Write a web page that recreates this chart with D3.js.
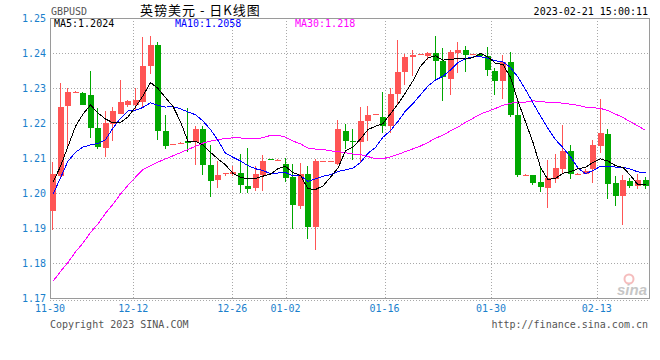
<!DOCTYPE html>
<html><head><meta charset="utf-8">
<script src="https://cdn.jsdelivr.net/npm/d3@7"></script>
<style>body{margin:0;background:#fff}svg{display:block}</style>
</head><body><svg id="c" width="660" height="360"></svg>
<script>
const openP=[1.1949,1.2049,1.2250,1.2287,1.2287,1.2279,1.2187,1.2128,1.2198,1.2227,
1.2253,1.2253,1.2260,1.2362,1.2424,1.2179,1.2140,1.2140,1.2149,1.2147,
1.2182,1.2082,1.2037,1.2057,1.2054,1.2058,1.2022,1.2015,1.2052,1.2097,
1.2095,1.2085,1.2046,1.1963,1.2054,1.1904,1.2091,1.2091,1.2083,1.2179,
1.2148,1.2146,1.2205,1.2225,1.2218,1.2191,1.2282,1.2345,1.2389,1.2396,
1.2393,1.2400,1.2378,1.2327,1.2401,1.2409,1.2396,1.2398,1.2391,1.2350,
1.2319,1.2374,1.2224,1.2052,1.2051,1.2031,1.2015,1.2042,1.2068,1.2122,
1.2055,1.2056,1.2070,1.2134,1.2170,1.2028,1.1992,1.2036,1.2022,1.2039];
const highP=[1.2089,1.2315,1.2300,1.2291,1.2289,1.2348,1.2243,1.2236,1.2246,1.2324,
1.2266,1.2300,1.2447,1.2449,1.2431,1.2224,1.2142,1.2145,1.2243,1.2191,
1.2193,1.2139,1.2091,1.2059,1.2079,1.2113,1.2128,1.2079,1.2108,1.2098,
1.2097,1.2102,1.2085,1.2087,1.2079,1.2098,1.2093,1.2093,1.2210,1.2199,
1.2182,1.2246,1.2250,1.2227,1.2290,1.2300,1.2438,1.2398,1.2408,1.2398,
1.2404,1.2449,1.2414,1.2409,1.2431,1.2421,1.2398,1.2399,1.2417,1.2357,
1.2395,1.2403,1.2267,1.2054,1.2052,1.2077,1.2096,1.2111,1.2196,1.2139,
1.2057,1.2070,1.2153,1.2270,1.2182,1.2049,1.2052,1.2044,1.2054,1.2046];
const lowP=[1.1895,1.2044,1.2130,1.2286,1.2251,1.2158,1.2125,1.2103,1.2150,1.2225,
1.2246,1.2239,1.2243,1.2340,1.2153,1.2125,1.2139,1.2140,1.2117,1.2082,
1.2052,1.1989,1.2015,1.2049,1.2049,1.2000,1.2001,1.2008,1.2006,1.2094,
1.2094,1.2033,1.1899,1.1954,1.1869,1.1838,1.2090,1.2090,1.2081,1.2125,
1.2096,1.2087,1.2149,1.2224,1.2172,1.2172,1.2253,1.2310,1.2334,1.2395,
1.2381,1.2322,1.2262,1.2281,1.2343,1.2345,1.2395,1.2390,1.2336,1.2281,
1.2270,1.2218,1.2046,1.2051,1.2025,1.2003,1.1957,1.2030,1.2054,1.2042,
1.2054,1.2054,1.2028,1.2115,1.1985,1.1963,1.1911,1.2016,1.2011,1.2011];
const closeP=[1.2054,1.2245,1.2288,1.2289,1.2253,1.2185,1.2131,1.2201,1.2234,1.2261,
1.2264,1.2267,1.2364,1.2424,1.2177,1.2134,1.2141,1.2143,1.2144,1.2182,
1.2080,1.2035,1.2051,1.2058,1.2062,1.2023,1.2011,1.2054,1.2093,1.2095,
1.2096,1.2043,1.1966,1.2054,1.1904,1.2091,1.2092,1.2092,1.2182,1.2149,
1.2146,1.2207,1.2224,1.2226,1.2191,1.2284,1.2347,1.2389,1.2395,1.2397,
1.2401,1.2376,1.2331,1.2404,1.2409,1.2395,1.2397,1.2391,1.2351,1.2319,
1.2374,1.2222,1.2051,1.2053,1.2028,1.2018,1.2045,1.2071,1.2122,1.2056,
1.2056,1.2065,1.2139,1.2173,1.2026,1.1992,1.2039,1.2022,1.2039,1.2022];
const ma5=[1.2032,1.2077,1.2134,1.2191,1.2226,1.2252,1.2229,1.2212,1.2201,1.2202,
1.2218,1.2246,1.2278,1.2316,1.2299,1.2273,1.2248,1.2204,1.2148,1.2149,
1.2138,1.2117,1.2098,1.2081,1.2057,1.2046,1.2041,1.2042,1.2049,1.2055,
1.2070,1.2077,1.2059,1.2051,1.2013,1.2011,1.2021,1.2046,1.2072,1.2121,
1.2132,1.2155,1.2182,1.2191,1.2199,1.2227,1.2255,1.2287,1.2321,1.2362,
1.2386,1.2392,1.2380,1.2382,1.2384,1.2383,1.2387,1.2399,1.2389,1.2371,
1.2367,1.2331,1.2263,1.2204,1.2145,1.2074,1.2039,1.2043,1.2057,1.2062,
1.2070,1.2074,1.2088,1.2098,1.2092,1.2079,1.2074,1.2051,1.2024,1.2024];
const ma10=[1.1997,1.2044,1.2092,1.2117,1.2132,1.2138,1.2142,1.2153,1.2186,1.2214,
1.2235,1.2237,1.2245,1.2258,1.2251,1.2246,1.2247,1.2241,1.2232,1.2224,
1.2206,1.2182,1.2151,1.2114,1.2103,1.2092,1.2079,1.2070,1.2065,1.2056,
1.2058,1.2059,1.2050,1.2050,1.2034,1.2041,1.2049,1.2053,1.2062,1.2067,
1.2072,1.2088,1.2114,1.2131,1.2160,1.2179,1.2205,1.2235,1.2256,1.2281,
1.2306,1.2323,1.2334,1.2352,1.2373,1.2384,1.2389,1.2390,1.2385,1.2378,
1.2375,1.2359,1.2331,1.2296,1.2258,1.2220,1.2185,1.2153,1.2130,1.2104,
1.2072,1.2056,1.2065,1.2077,1.2077,1.2075,1.2074,1.2069,1.2061,1.2058];
const ma30=[1.1749,1.1777,1.1803,1.1833,1.1858,1.1888,1.1913,1.1943,1.1969,1.1998,
1.2023,1.2046,1.2068,1.2079,1.2089,1.2098,1.2107,1.2116,1.2125,1.2134,
1.2143,1.2149,1.2153,1.2157,1.2158,1.2158,1.2155,1.2155,1.2159,1.2165,
1.2166,1.2160,1.2149,1.2141,1.2129,1.2126,1.2125,1.2121,1.2119,1.2116,
1.2112,1.2110,1.2105,1.2098,1.2099,1.2104,1.2111,1.2119,1.2127,1.2135,
1.2145,1.2157,1.2166,1.2178,1.2189,1.2202,1.2214,1.2226,1.2234,1.2242,
1.2251,1.2257,1.2260,1.2260,1.2264,1.2261,1.2260,1.2259,1.2257,1.2254,
1.2251,1.2246,1.2244,1.2242,1.2236,1.2226,1.2216,1.2204,1.2192,1.2180];
const yTicks=[1.17,1.18,1.19,1.20,1.21,1.22,1.23,1.24,1.25];
const xTickLabels=["11-30","12-12","12-26","01-02","01-16","01-30","02-13"];
const xTickIndex=[-0.4,10.7,23.9,31.0,44.2,58.4,72.5];
const symbol="GBPUSD";
const title="英镑美元 - 日K线图";
const stamp="2023-02-21 15:00:11";

const svg=d3.select("#c");
const L=50,R=650,T=18,B=298.5;
const x=d3.scaleLinear().domain([0,79]).range([53,645.5]);
const y=d3.scaleLinear().domain([1.17,1.25]).range([B,T]);
const mono="'DejaVu Sans Mono','Liberation Mono',monospace";
const blueTxt="#1a80cc";

// horizontal grid
svg.append("g").selectAll("line").data(yTicks.filter(v=>v>1.171&&v<1.249)).join("line")
  .attr("x1",L).attr("x2",R).attr("y1",d=>Math.round(y(d))+0.5).attr("y2",d=>Math.round(y(d))+0.5)
  .attr("stroke","#a8a8a8").attr("stroke-dasharray","1,2");
// vertical grid
svg.append("g").selectAll("line").data(xTickIndex.slice(1)).join("line")
  .attr("x1",d=>Math.round(x(d))+0.5).attr("x2",d=>Math.round(x(d))+0.5).attr("y1",T).attr("y2",B)
  .attr("stroke","#a8a8a8").attr("stroke-dasharray","1,2");
// bottom dotted line
svg.append("line").attr("x1",L).attr("x2",R).attr("y1",300.5).attr("y2",300.5)
  .attr("stroke","#a8a8a8").attr("stroke-dasharray","1,2");

// frame
svg.append("rect").attr("x",L+0.5).attr("y",T+0.5).attr("width",R-L-1).attr("height",B-T-0.5)
  .attr("fill","none").attr("stroke","#9a9a9a");

// watermark
const wm=svg.append("g").attr("opacity",0.55);
wm.append("circle").attr("cx",629).attr("cy",279).attr("r",4.5).attr("fill","none").attr("stroke","#e88").attr("stroke-width",2);
wm.append("text").attr("x",647).attr("y",295).attr("text-anchor","end")
  .attr("font-family","Arial,'Liberation Sans',sans-serif").attr("font-style","italic").attr("font-weight","bold")
  .attr("font-size",15).attr("fill","#999").text("sina");

// candles
const idx=d3.range(closeP.length);
const up="#ff5555", down="#00a800";
const cg=svg.append("g").attr("shape-rendering","crispEdges");
cg.selectAll("line").data(idx).join("line")
  .attr("x1",i=>Math.round(x(i)-3)+2.5).attr("x2",i=>Math.round(x(i)-3)+2.5)
  .attr("y1",i=>y(highP[i])).attr("y2",i=>y(lowP[i]))
  .attr("stroke",i=>closeP[i]>=openP[i]?up:down);
cg.selectAll("rect").data(idx).join("rect")
  .attr("x",i=>Math.round(x(i)-3)).attr("width",6)
  .attr("y",i=>Math.min(y(openP[i]),y(closeP[i])))
  .attr("height",i=>Math.max(1,Math.abs(y(openP[i])-y(closeP[i]))))
  .attr("fill",i=>closeP[i]>=openP[i]?up:down);

// MA lines
const line=arr=>d3.line().x((d,i)=>x(i)).y(d=>y(d))(arr);
[[ma30,"#ff00ff"],[ma10,"#0000ff"],[ma5,"#000000"]].forEach(([a,c])=>{
  svg.append("path").attr("d",line(a)).attr("fill","none").attr("stroke",c).attr("stroke-width",1)
    .attr("shape-rendering","crispEdges");
});

// y labels
svg.append("g").selectAll("text").data(yTicks).join("text")
  .attr("x",46).attr("y",d=>y(d)+3.5).attr("text-anchor","end")
  .attr("font-family",mono).attr("font-size",10).attr("fill",blueTxt).text(d=>d.toFixed(2));
// x labels
svg.append("g").selectAll("text").data(xTickLabels).join("text")
  .attr("x",(d,i)=>i===0?L:x(xTickIndex[i])).attr("y",312).attr("text-anchor","middle")
  .attr("font-family",mono).attr("font-size",10).attr("fill",blueTxt).text(d=>d);

// MA legend
const leg=[["MA5:"+ma5[ma5.length-1],"#000",54],["MA10:"+ma10[ma10.length-1],"#0000ff",175],["MA30:"+ma30[ma30.length-1],"#ff00ff",295]];
svg.append("g").selectAll("text").data(leg).join("text")
  .attr("x",d=>d[2]).attr("y",27).attr("font-family",mono).attr("font-size",10)
  .attr("fill",d=>d[1]).text(d=>d[0]);

// header
svg.append("text").attr("x",51).attr("y",15).attr("font-family",mono).attr("font-size",10).attr("fill","#555").text(symbol);
svg.append("text").attr("x",140).attr("y",15).attr("font-family","'Noto Sans CJK SC',sans-serif").attr("font-size",13)
  .attr("letter-spacing",1).attr("fill","#000").text(title);
svg.append("text").attr("x",648).attr("y",15).attr("text-anchor","end").attr("font-family",mono).attr("font-size",10).attr("fill","#000").text(stamp);

// footer
svg.append("text").attr("x",50).attr("y",327.5).attr("font-family",mono).attr("font-size",10).attr("fill","#555").text("Copyright 2023 SINA.COM");
svg.append("text").attr("x",648).attr("y",327.5).attr("text-anchor","end").attr("font-family",mono).attr("font-size",10).attr("fill","#555").text("http://finance.sina.com.cn");
</script></body></html>
